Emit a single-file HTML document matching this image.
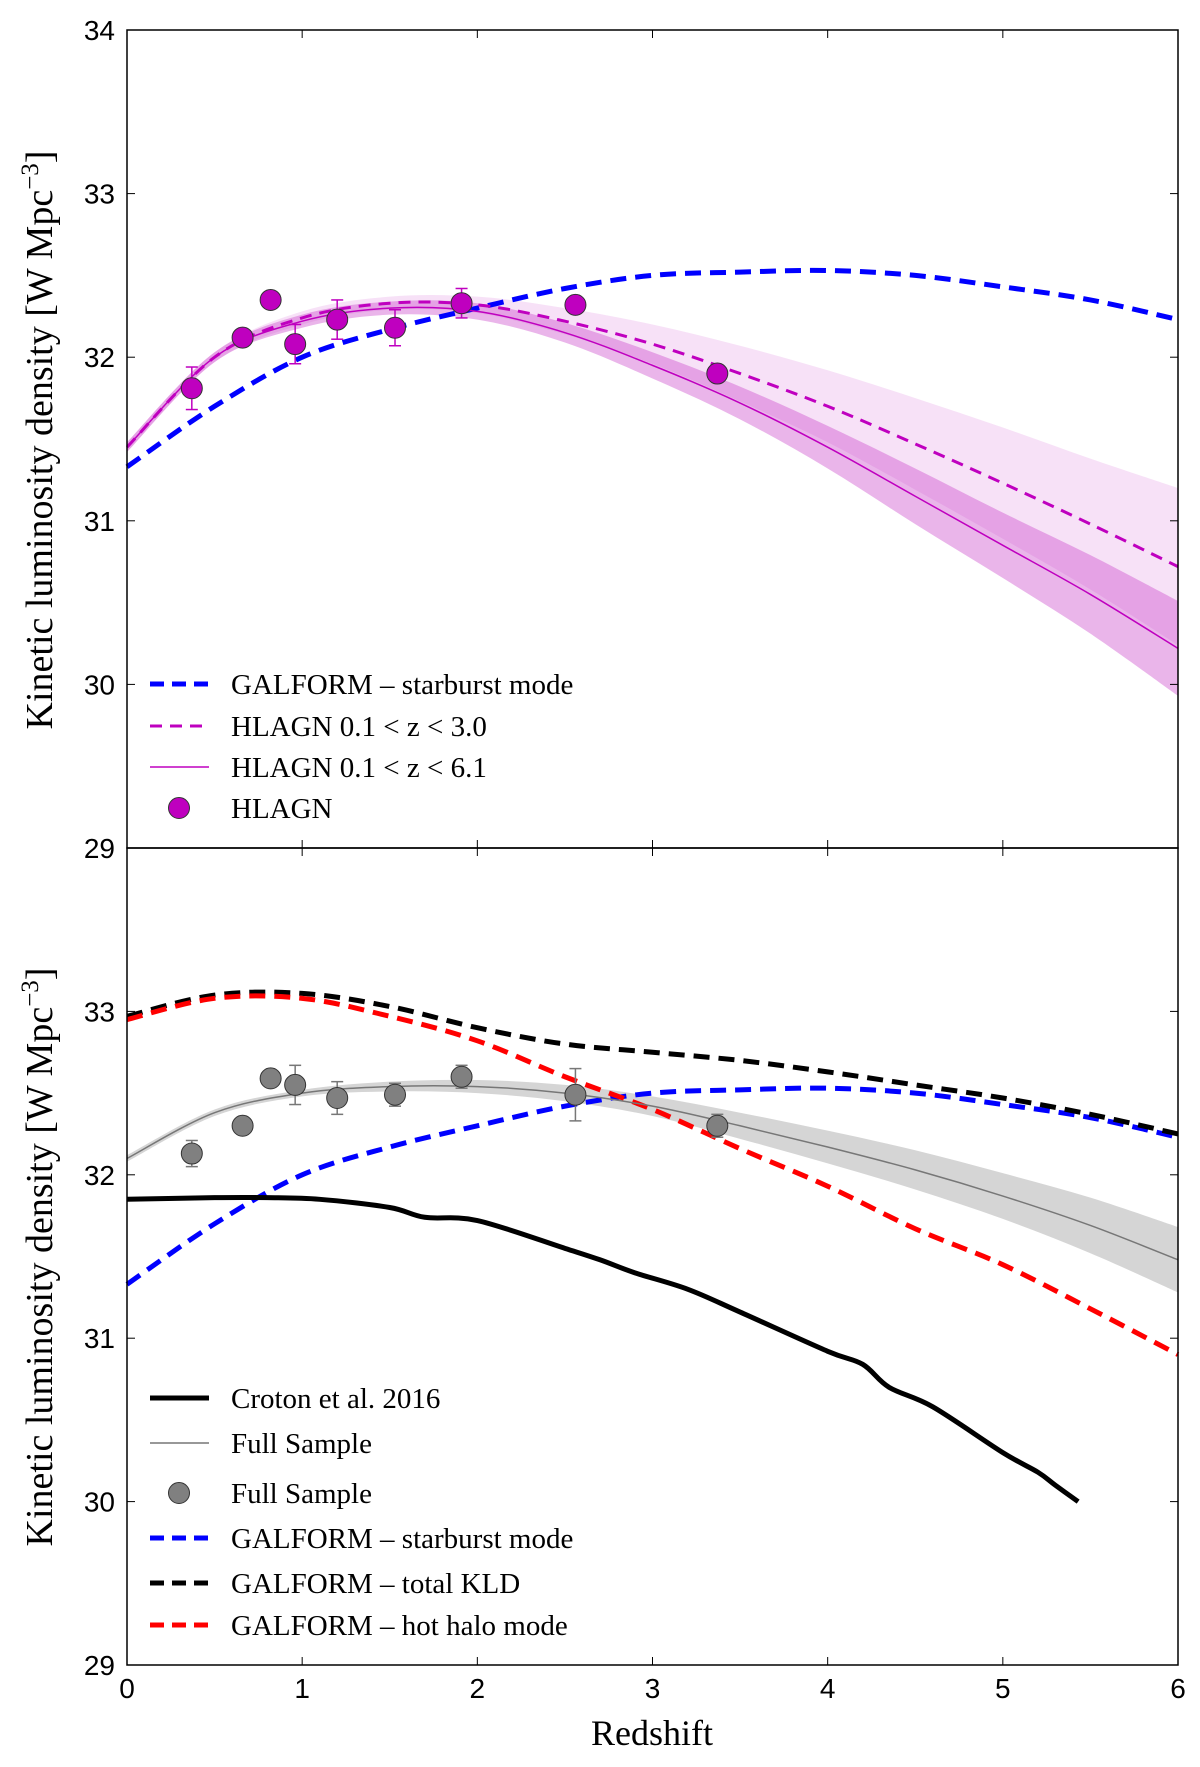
<!DOCTYPE html>
<html><head><meta charset="utf-8"><style>
html,body{margin:0;padding:0;background:#fff}
svg{display:block}
text{font-family:"Liberation Serif",serif;fill:#000}
.tick{font-family:"Liberation Sans",sans-serif;font-size:28px}
</style></head><body>
<svg id="chart" width="1200" height="1767" viewBox="0 0 1200 1767" xmlns="http://www.w3.org/2000/svg"></svg>
<script>
const zGrid=[0,0.5,1,1.5,2,2.5,3,3.5,4,4.5,5,5.5,6];
const starburst=[31.33,31.7,32.0,32.17,32.3,32.42,32.5,32.52,32.53,32.5,32.43,32.35,32.23];
const hlagnShort=[31.45,32.0,32.24,32.33,32.32,32.22,32.08,31.9,31.7,31.47,31.23,30.98,30.72];
const hlagnShortErr=[0.03,0.03,0.04,0.04,0.05,0.08,0.12,0.17,0.22,0.28,0.34,0.4,0.48];
const hlagnLong=[31.45,32.0,32.22,32.3,32.28,32.15,31.95,31.72,31.45,31.15,30.85,30.55,30.22];
const hlagnLongErr=[0.03,0.03,0.04,0.04,0.05,0.06,0.08,0.1,0.13,0.17,0.2,0.24,0.29];
const hlagnZ=[0.37,0.66,0.82,0.96,1.2,1.53,1.91,2.56,3.37];
const hlagnVal=[31.81,32.12,32.35,32.08,32.23,32.18,32.33,32.32,31.9];
const hlagnErr=[0.13,0,0,0.12,0.12,0.11,0.09,0,0];
const fullLine=[32.1,32.38,32.5,32.54,32.54,32.5,32.42,32.3,32.17,32.03,31.87,31.69,31.48];
const fullLineErr=[0.02,0.02,0.02,0.03,0.04,0.05,0.06,0.08,0.1,0.12,0.14,0.17,0.2];
const fullZ=[0.37,0.66,0.82,0.96,1.2,1.53,1.91,2.56,3.37];
const fullVal=[32.13,32.3,32.59,32.55,32.47,32.49,32.6,32.49,32.3];
const fullErr=[0.08,0,0,0.12,0.1,0.07,0.07,0.16,0.07];
const totalKLD=[32.97,33.1,33.11,33.03,32.9,32.8,32.75,32.7,32.63,32.55,32.47,32.37,32.25];
const hotHalo=[32.95,33.08,33.08,32.97,32.82,32.6,32.4,32.16,31.93,31.67,31.45,31.18,30.9];
const crotonZ=[0,0.5,0.8,1.1,1.5,1.7,2,2.5,2.7,2.9,3.2,3.5,4,4.2,4.35,4.6,5,5.2,5.3,5.43];
const crotonVal=[31.85,31.86,31.86,31.85,31.8,31.74,31.72,31.55,31.48,31.4,31.3,31.16,30.92,30.84,30.7,30.58,30.3,30.18,30.1,30.0];
const xTicks=[0,1,2,3,4,5,6];
const yTicksTop=[29,30,31,32,33,34];
const yTicksBot=[29,30,31,32,33];

const svg=document.getElementById('chart');
const NS='http://www.w3.org/2000/svg';
const L=127,R=1178,T1=30,B1=848,T2=848,B2=1665;
const X=z=>L+(R-L)*z/6;
const Y1=v=>B1-(B1-T1)*(v-29)/5;
const Y2=v=>B2-(B2-T2)*(v-29)/5;
function mk(tag,attrs,parent){const e=document.createElementNS(NS,tag);for(const k in attrs)e.setAttribute(k,attrs[k]);(parent||svg).appendChild(e);return e;}
function smooth(pts){let d='M'+pts[0][0]+','+pts[0][1];for(let i=0;i<pts.length-1;i++){const p0=pts[i-1]||pts[i],p1=pts[i],p2=pts[i+1],p3=pts[i+2]||p2;d+=' C'+(p1[0]+(p2[0]-p0[0])/6)+','+(p1[1]+(p2[1]-p0[1])/6)+' '+(p2[0]-(p3[0]-p1[0])/6)+','+(p2[1]-(p3[1]-p1[1])/6)+' '+p2[0]+','+p2[1];}return d;}
function line(xs,vs,Y,style,name){const p=mk('path',Object.assign({d:smooth(xs.map((z,i)=>[X(z),Y(vs[i])])),fill:'none'},style));return p;}
function band(xs,vs,es,Y,fill,name){const up=xs.map((z,i)=>[X(z),Y(vs[i]+es[i])]);const lo=xs.map((z,i)=>[X(z),Y(vs[i]-es[i])]).reverse();const d=smooth(up)+' L'+lo[0][0]+','+lo[0][1]+smooth(lo).replace(/^M[^C]*/,' ')+' Z';const p=mk('path',{d:d,fill:fill,stroke:'none'});}
function points(zs,vs,es,Y,fill,ecol,name){const g=mk('g',{});zs.forEach((z,i)=>{if(es[i]>0){mk('line',{x1:X(z),x2:X(z),y1:Y(vs[i]-es[i]),y2:Y(vs[i]+es[i]),stroke:ecol,'stroke-width':1.5},g);[-1,1].forEach(s=>mk('line',{x1:X(z)-6,x2:X(z)+6,y1:Y(vs[i]+s*es[i]),y2:Y(vs[i]+s*es[i]),stroke:ecol,'stroke-width':1.5},g));}const c=mk('circle',{cx:X(z),cy:Y(vs[i]),r:10.5,fill:fill,stroke:'#333','stroke-width':1},g);});}
function axes(T,B,Y,yt,name){const g=mk('g',{});mk('rect',{x:L,y:T,width:R-L,height:B-T,fill:'none',stroke:'#000','stroke-width':1.5},g);xTicks.forEach(t=>{mk('line',{x1:X(t),x2:X(t),y1:B,y2:B-8,stroke:'#000'},g);mk('line',{x1:X(t),x2:X(t),y1:T,y2:T+8,stroke:'#000'},g);});yt.forEach(v=>{mk('line',{x1:L,x2:L+8,y1:Y(v),y2:Y(v),stroke:'#000'},g);mk('line',{x1:R,x2:R-8,y1:Y(v),y2:Y(v),stroke:'#000'},g);const t=mk('text',{x:L-12,y:Y(v)+10,'text-anchor':'end',class:'tick'},g);t.textContent=v;});}

// top panel
band(zGrid,hlagnShort,hlagnShortErr,Y1,'rgba(220,120,220,0.22)','hlagn-short-band');
band(zGrid,hlagnLong,hlagnLongErr,Y1,'rgba(200,60,200,0.38)','hlagn-long-band');
line(zGrid,starburst,Y1,{stroke:'#0000ff','stroke-width':5,'stroke-dasharray':'16,9'},'starburst-line-top');
line(zGrid,hlagnShort,Y1,{stroke:'#bf00bf','stroke-width':3,'stroke-dasharray':'12,8'},'hlagn-short-line');
line(zGrid,hlagnLong,Y1,{stroke:'#bf00bf','stroke-width':1.5},'hlagn-long-line');
points(hlagnZ,hlagnVal,hlagnErr,Y1,'#bf00bf','#bf00bf','hlagn-points');
axes(T1,B1,Y1,yTicksTop,'top-axes');

// bottom panel
band(zGrid,fullLine,fullLineErr,Y2,'rgba(150,150,150,0.4)','full-sample-band');
line(zGrid,starburst,Y2,{stroke:'#0000ff','stroke-width':5,'stroke-dasharray':'16,9'},'starburst-line-bottom');
line(zGrid,totalKLD,Y2,{stroke:'#000','stroke-width':5,'stroke-dasharray':'16,9'},'total-kld-line');
line(zGrid,hotHalo,Y2,{stroke:'#ff0000','stroke-width':5,'stroke-dasharray':'16,9'},'hot-halo-line');
line(zGrid,fullLine,Y2,{stroke:'#777','stroke-width':1.5},'full-sample-line');
line(crotonZ,crotonVal,Y2,{stroke:'#000','stroke-width':5},'croton-line');
points(fullZ,fullVal,fullErr,Y2,'#808080','#777','full-sample-points');
axes(T2,B2,Y2,yTicksBot,'bottom-axes');
xTicks.forEach(t=>{const e=mk('text',{x:X(t),y:B2+33,'text-anchor':'middle',class:'tick'});e.textContent=t;});
</script>
<svg style="position:absolute;left:0;top:0" width="1200" height="1767">
<text x="652" y="1745" text-anchor="middle" font-size="36" style="font-family:'Liberation Serif',serif">Redshift</text>
<text transform="translate(52,440) rotate(-90)" text-anchor="middle" font-size="38" style="font-family:'Liberation Serif',serif">Kinetic luminosity density [W Mpc<tspan dy="-14" font-size="25">−3</tspan><tspan dy="14">]</tspan></text>
<text transform="translate(52,1257) rotate(-90)" text-anchor="middle" font-size="38" style="font-family:'Liberation Serif',serif">Kinetic luminosity density [W Mpc<tspan dy="-14" font-size="25">−3</tspan><tspan dy="14">]</tspan></text>
<g font-size="29" style="font-family:'Liberation Serif',serif">
<line x1="150" x2="209" y1="684" y2="684" stroke="#00f" stroke-width="5" stroke-dasharray="14,8"/><text x="231" y="694">GALFORM – starburst mode</text>
<line x1="150" x2="209" y1="726" y2="726" stroke="#bf00bf" stroke-width="3" stroke-dasharray="12,8"/><text x="231" y="736">HLAGN 0.1 &lt; z &lt; 3.0</text>
<line x1="150" x2="209" y1="767" y2="767" stroke="#bf00bf" stroke-width="1.5"/><text x="231" y="777">HLAGN 0.1 &lt; z &lt; 6.1</text>
<circle cx="179" cy="808" r="10.5" fill="#bf00bf" stroke="#333"/><text x="231" y="818">HLAGN</text>
</g>
<g font-size="29" style="font-family:'Liberation Serif',serif">
<line x1="150" x2="209" y1="1398" y2="1398" stroke="#000" stroke-width="5"/><text x="231" y="1408">Croton et al. 2016</text>
<line x1="150" x2="209" y1="1443" y2="1443" stroke="#777" stroke-width="1.5"/><text x="231" y="1453">Full Sample</text>
<circle cx="179" cy="1493" r="10.5" fill="#808080" stroke="#333"/><text x="231" y="1503">Full Sample</text>
<line x1="150" x2="209" y1="1538" y2="1538" stroke="#00f" stroke-width="5" stroke-dasharray="14,8"/><text x="231" y="1548">GALFORM – starburst mode</text>
<line x1="150" x2="209" y1="1583" y2="1583" stroke="#000" stroke-width="5" stroke-dasharray="14,8"/><text x="231" y="1593">GALFORM – total KLD</text>
<line x1="150" x2="209" y1="1625" y2="1625" stroke="#f00" stroke-width="5" stroke-dasharray="14,8"/><text x="231" y="1635">GALFORM – hot halo mode</text>
</g>
</svg>
</body></html>
